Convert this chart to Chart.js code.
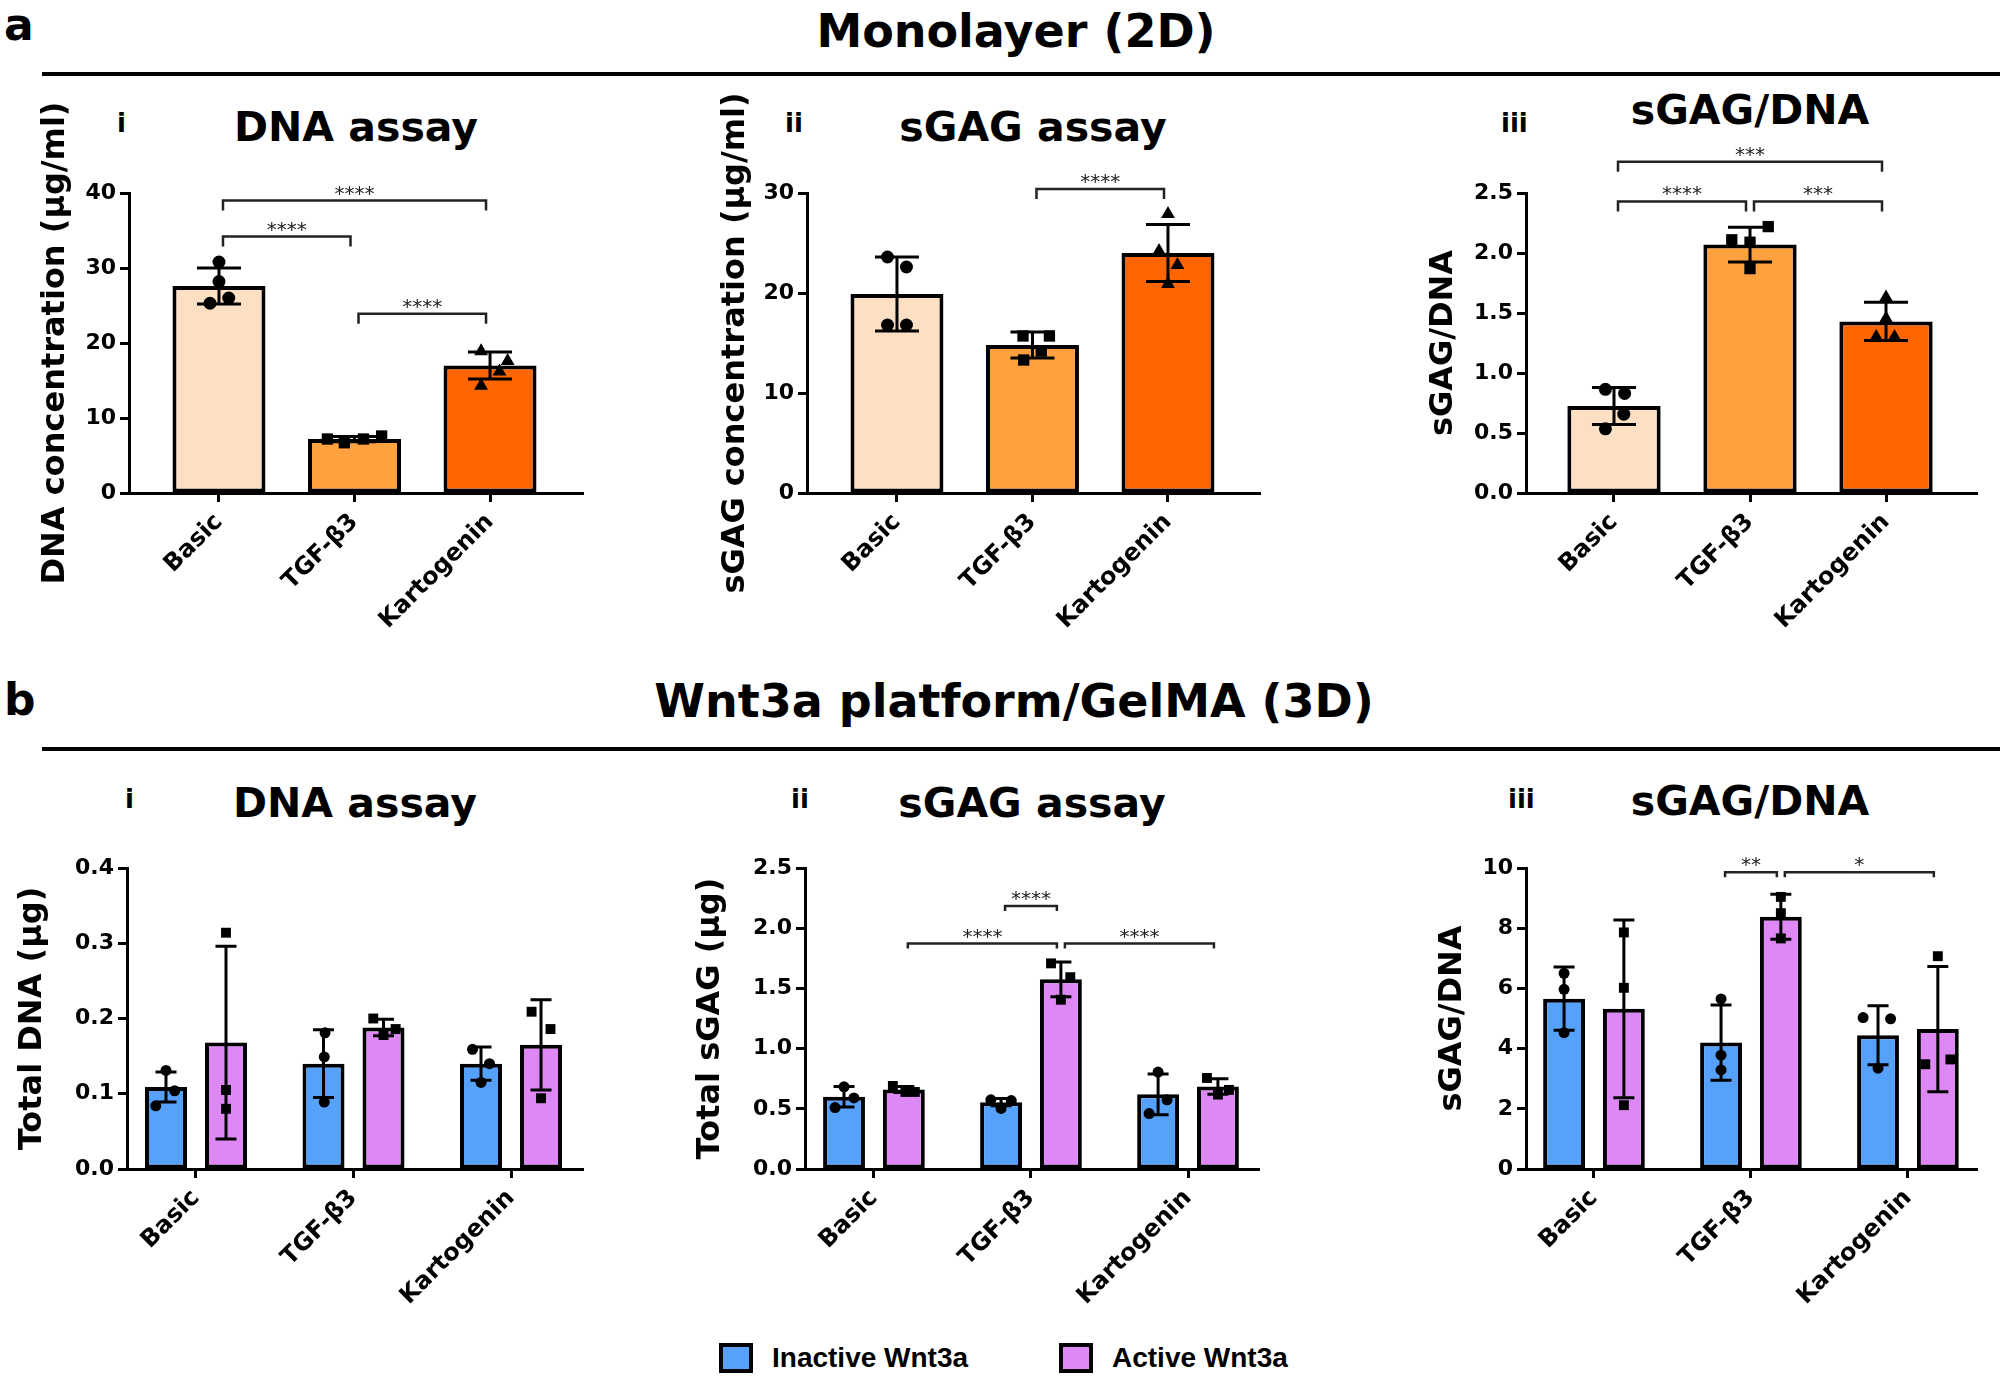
<!DOCTYPE html>
<html>
<head>
<meta charset="utf-8">
<script src="https://cdn.jsdelivr.net/npm/chart.js@4.4.1/dist/chart.umd.min.js"></script>
<style>
  body { margin: 0; background: #fff; width: 2006px; height: 1376px; overflow: hidden; position: relative; }
  .t { position: absolute; font-family: 'DejaVu Sans', sans-serif; font-weight: bold; line-height: 1; white-space: nowrap; color: #000; }
  .rule { position: absolute; left: 42px; width: 1958px; height: 4px; background: #000; }
  canvas { position: absolute; }
  .sw { position: absolute; width: 26px; height: 22px; border: 4px solid #000; }
  .lg { position: absolute; font-family: 'Liberation Sans', Arial, sans-serif; font-weight: bold; font-size: 28px; line-height: 1; white-space: nowrap; }
</style>
</head>
<body>
<div class="t" style="left:4px; top:3px; font-size:44px;">a</div>
<div class="t" style="left:1016px; top:8px; font-size:46px; transform:translateX(-50%);">Monolayer (2D)</div>
<div class="rule" style="top:72px;"></div>
<div class="t" style="left:4px; top:678px; font-size:44px;">b</div>
<div class="t" style="left:1014px; top:678px; font-size:46px; transform:translateX(-50%);">Wnt3a platform/GelMA (3D)</div>
<div class="rule" style="top:747px;"></div>

<div class="t" style="left:117px; top:110px; font-size:26px;">i</div>
<div class="t" style="left:785px; top:110px; font-size:26px;">ii</div>
<div class="t" style="left:1501px; top:110px; font-size:26px;">iii</div>
<div class="t" style="left:125px; top:786px; font-size:26px;">i</div>
<div class="t" style="left:791px; top:786px; font-size:26px;">ii</div>
<div class="t" style="left:1508px; top:786px; font-size:26px;">iii</div>

<div class="t" style="left:356px; top:107px; font-size:41px; transform:translateX(-50%);">DNA assay</div>
<div class="t" style="left:1033px; top:107px; font-size:41px; transform:translateX(-50%);">sGAG assay</div>
<div class="t" style="left:1750px; top:90px; font-size:41px; transform:translateX(-50%);">sGAG/DNA</div>
<div class="t" style="left:355px; top:783px; font-size:41px; transform:translateX(-50%);">DNA assay</div>
<div class="t" style="left:1032px; top:783px; font-size:41px; transform:translateX(-50%);">sGAG assay</div>
<div class="t" style="left:1750px; top:781px; font-size:41px; transform:translateX(-50%);">sGAG/DNA</div>

<div class="sw" style="left:719px; top:1343px; background:#55a1fb;"></div>
<div class="lg" style="left:772px; top:1344px;">Inactive Wnt3a</div>
<div class="sw" style="left:1059px; top:1343px; background:#dd88f4;"></div>
<div class="lg" style="left:1112px; top:1344px;">Active Wnt3a</div>

<script>
const FONT = "'DejaVu Sans', sans-serif";
const groups = ['Basic', 'TGF-\u03b23', 'Kartogenin'];

// a: Monolayer (2D)
const monoColors = ['#fde0c4', '#ffa13f', '#ff6500'];
const monoStyles = ['circle', 'rect', 'triangle'];

const monoDnaMean = [27.6, 7.2, 17.0];
const monoDnaSd = [2.4, 0.35, 1.8];
const monoDnaPts = [[30.8, 28.2, 25.3, 26.0], [7.2, 6.7, 7.2, 7.6], [18.9, 14.3, 16.2, 17.6]];
const monoDnaJit = [[0, 0, -0.066, 0.072], [-0.2, -0.075, 0.066, 0.2], [-0.066, -0.066, 0.07, 0.13]];
const monoDnaSig = [[0, 1, 34.2, '****'], [0, 2, 39.0, '****'], [1, 2, 23.9, '****']];

const monoGagMean = [19.9, 14.8, 24.0];
const monoGagSd = [3.7, 1.3, 2.85];
const monoGagPts = [[23.6, 22.6, 16.8, 16.8], [15.7, 15.7, 13.3, 14.2], [27.9, 24.2, 22.8, 20.9]];
const monoGagJit = [[-0.07, 0.07, -0.07, 0.07], [-0.07, 0.125, -0.065, 0.065], [0, -0.066, 0.07, 0]];
const monoGagSig = [[1, 2, 30.4, '****']];

const monoRatioMean = [0.725, 2.07, 1.43];
const monoRatioSd = [0.155, 0.145, 0.16];
const monoRatioPts = [[0.864, 0.83, 0.657, 0.535], [2.22, 2.11, 2.09, 1.87], [1.63, 1.455, 1.30, 1.30]];
const monoRatioJit = [[-0.063, 0.078, 0.072, -0.063], [0.134, -0.134, 0, 0], [0, 0, -0.072, 0.0625]];
const monoRatioSig = [[0, 1, 2.43, '****'], [1, 2, 2.43, '***'], [0, 2, 2.76, '***']];

// b: Wnt3a platform/GelMA (3D)
const seriesNames = ['Inactive Wnt3a', 'Active Wnt3a'];
const seriesColors = ['#55a1fb', '#dd88f4'];
const seriesStyles = ['circle', 'rect'];

const gelDnaInactiveMean = [0.109, 0.14, 0.14];
const gelDnaInactiveSd = [0.02, 0.045, 0.022];
const gelDnaInactivePts = [[0.131, 0.104, 0.084], [0.181, 0.149, 0.089], [0.159, 0.14, 0.115]];
const gelDnaInactiveJit = [[0, 0.055, -0.065], [0.01, 0.005, 0.005], [-0.054, 0.054, 0]];
const gelDnaActiveMean = [0.168, 0.188, 0.165];
const gelDnaActiveSd = [0.128, 0.011, 0.06];
const gelDnaActivePts = [[0.314, 0.105, 0.080], [0.20, 0.178, 0.186], [0.209, 0.186, 0.094]];
const gelDnaActiveJit = [[0, 0, 0], [-0.065, 0, 0.077], [-0.06, 0.06, 0]];
const gelDnaSig = [];

const gelGagInactiveMean = [0.60, 0.555, 0.62];
const gelGagInactiveSd = [0.085, 0.03, 0.17];
const gelGagInactivePts = [[0.683, 0.59, 0.51], [0.575, 0.568, 0.503], [0.805, 0.575, 0.46]];
const gelGagInactiveJit = [[0, 0.063, -0.057], [-0.065, 0.065, 0], [0, 0.057, -0.057]];
const gelGagActiveMean = [0.66, 1.575, 0.685];
const gelGagActiveSd = [0.025, 0.145, 0.065];
const gelGagActivePts = [[0.69, 0.64, 0.64], [1.708, 1.593, 1.406], [0.756, 0.657, 0.618]];
const gelGagActiveJit = [[-0.07, 0.01, 0.07], [-0.063, 0.06, 0], [-0.07, 0.07, 0]];
const gelGagSig = [[[0, 1], [1, 1], 2.185, '****'], [[1, 0], [1, 1], 1.872, '****'], [[1, 1], [1, 2], 1.872, '****']];

const gelRatioInactiveMean = [5.66, 4.2, 4.44];
const gelRatioInactiveSd = [1.05, 1.25, 0.98];
const gelRatioInactivePts = [[6.5, 5.97, 4.53], [5.65, 3.78, 3.29], [5.03, 4.99, 3.35]];
const gelRatioInactiveJit = [[0, 0, 0], [0, 0, 0], [-0.095, 0.08, 0]];
const gelRatioActiveMean = [5.32, 8.38, 4.65];
const gelRatioActiveSd = [2.95, 0.75, 2.08];
const gelRatioActivePts = [[7.86, 6.02, 2.12], [9.04, 8.5, 7.66], [7.07, 3.48, 3.64]];
const gelRatioActiveJit = [[0, 0, 0], [0, 0, 0], [0, -0.08, 0.08]];
const gelRatioSig = [[[0, 1], [1, 1], 9.86, '**'], [[1, 1], [1, 2], 9.86, '*']];

const PAD_TOP = 110;
const X_H = 150;
const GEL_CAT = 0.762;

// error bars + significance brackets
const annot = {
  id: 'annot',
  afterDatasetsDraw(chart, args, o) {
    const ctx = chart.ctx;
    const ys = chart.scales.y;
    ctx.save();
    ctx.strokeStyle = '#000';
    ctx.lineWidth = 3;
    chart.data.datasets.forEach((ds, d) => {
      if (!ds.sd) return;
      chart.getDatasetMeta(d).data.forEach((el, i) => {
        const m = ds.data[i].y, s = ds.sd[i];
        const yt = ys.getPixelForValue(m + s), yb = ys.getPixelForValue(m - s);
        ctx.beginPath();
        ctx.moveTo(el.x, yt); ctx.lineTo(el.x, yb);
        ctx.moveTo(el.x - o.cap / 2, yt); ctx.lineTo(el.x + o.cap / 2, yt);
        ctx.moveTo(el.x - o.cap / 2, yb); ctx.lineTo(el.x + o.cap / 2, yb);
        ctx.stroke();
      });
    });
    ctx.strokeStyle = '#222';
    ctx.lineWidth = 2.5;
    ctx.fillStyle = '#222';
    ctx.font = '20px ' + FONT;
    ctx.textAlign = 'center';
    ctx.textBaseline = 'alphabetic';
    o.sig.forEach(([a, b, level, txt]) => {
      const x1 = chart.getDatasetMeta(a[0]).data[a[1]].x + 4;
      const x2 = chart.getDatasetMeta(b[0]).data[b[1]].x - 4;
      const py = ys.getPixelForValue(level);
      ctx.beginPath();
      ctx.moveTo(x1, py + o.leg); ctx.lineTo(x1, py); ctx.lineTo(x2, py); ctx.lineTo(x2, py + o.leg);
      ctx.stroke();
      ctx.fillText(txt, (x1 + x2) / 2, py - 1);
    });
    ctx.restore();
  }
};

function makePanel(box, datasets, opts) {
  const yw = box.axisX - box.titleX + 16;
  const c = document.createElement('canvas');
  c.width = yw + (box.right - box.axisX) + 12;
  c.height = PAD_TOP + (box.bottom - box.top) + X_H;
  c.style.left = (box.axisX - yw) + 'px';
  c.style.top = (box.top - PAD_TOP) + 'px';
  document.body.appendChild(c);

  new Chart(c, {
    type: 'bar',
    data: { datasets },
    options: {
      responsive: false,
      animation: false,
      layout: { padding: { top: PAD_TOP, right: 12, left: 0, bottom: 0 } },
      plugins: {
        legend: { display: false },
        tooltip: { enabled: false },
        annot: { cap: opts.cap, leg: opts.leg, sig: opts.sig }
      },
      scales: {
        x: {
          type: 'linear',
          offset: false,
          min: opts.xMin,
          max: opts.xMax,
          afterBuildTicks: s => { s.ticks = groups.map((g, i) => ({ value: i })); },
          afterFit: s => { s.height = X_H; },
          grid: { offset: false, drawOnChartArea: false, drawTicks: true, tickLength: 9, tickWidth: 3, tickColor: '#000' },
          border: { color: '#000', width: 3 },
          ticks: {
            callback: v => groups[v],
            autoSkip: false,
            minRotation: 45,
            maxRotation: 45,
            padding: 6,
            color: '#000',
            font: { family: FONT, size: 24, weight: 'bold' }
          }
        },
        y: {
          min: 0,
          max: opts.yMax,
          afterFit: s => { s.width = yw; },
          grid: { drawOnChartArea: false, drawTicks: true, tickLength: 9, tickWidth: 3, tickColor: '#000' },
          border: { color: '#000', width: 3 },
          ticks: {
            stepSize: opts.step,
            padding: 4,
            color: '#000',
            font: { family: FONT, size: 22, weight: 'bold' },
            callback: v => v.toFixed(opts.dec)
          },
          title: {
            display: true,
            text: opts.yTitle,
            color: '#000',
            padding: 0,
            font: { family: FONT, size: 32, weight: 'bold', lineHeight: 1 }
          }
        }
      }
    },
    plugins: [annot]
  });
}

function monoSets(mean, sd, pts, jit) {
  const sets = [{
    label: 'mean',
    data: mean.map((v, i) => ({ x: i, y: v })),
    sd: sd,
    backgroundColor: monoColors,
    borderColor: '#000',
    borderWidth: 4,
    borderSkipped: false,
    categoryPercentage: 0.686,
    barPercentage: 1,
    order: 2
  }];
  pts.forEach((p, i) => {
    sets.push({
      type: 'scatter',
      data: p.map((v, k) => ({ x: i + jit[i][k], y: v })),
      pointStyle: monoStyles[i],
      pointRadius: i === 0 ? 6.5 : 8,
      backgroundColor: '#000',
      borderColor: '#000',
      borderWidth: 0,
      order: 1
    });
  });
  return sets;
}

function gelSets(means, sds, pts, jits) {
  const sets = means.map((mean, s) => ({
    label: seriesNames[s],
    data: mean.map((v, i) => ({ x: i, y: v })),
    sd: sds[s],
    backgroundColor: seriesColors[s],
    borderColor: '#000',
    borderWidth: 4,
    borderSkipped: false,
    categoryPercentage: GEL_CAT,
    barPercentage: 0.7,
    order: 2
  }));
  pts.forEach((p, s) => {
    const off = (s === 0 ? -1 : 1) * GEL_CAT / 4;
    sets.push({
      type: 'scatter',
      data: p.flatMap((g, i) => g.map((v, k) => ({ x: i + off + jits[s][i][k], y: v }))),
      pointStyle: seriesStyles[s],
      pointRadius: s === 0 ? 5.5 : 7,
      backgroundColor: '#000',
      borderColor: '#000',
      borderWidth: 0,
      order: 1
    });
  });
  return sets;
}

const monoSig = list => list.map(([a, b, l, t]) => [[0, a], [0, b], l, t]);

makePanel({ axisX: 129, titleX: 56, right: 583, top: 193, bottom: 493 },
  monoSets(monoDnaMean, monoDnaSd, monoDnaPts, monoDnaJit),
  { xMin: -0.664, xMax: 2.686, yMax: 40, step: 10, dec: 0, yTitle: 'DNA concentration (\u03bcg/ml)', cap: 44, leg: 10, sig: monoSig(monoDnaSig) });

makePanel({ axisX: 807, titleX: 736, right: 1260, top: 193, bottom: 493 },
  monoSets(monoGagMean, monoGagSd, monoGagPts, monoGagJit),
  { xMin: -0.664, xMax: 2.679, yMax: 30, step: 10, dec: 0, yTitle: 'sGAG concentration (\u03bcg/ml)', cap: 44, leg: 10, sig: monoSig(monoGagSig) });

makePanel({ axisX: 1526, titleX: 1444, right: 1977, top: 193, bottom: 493 },
  monoSets(monoRatioMean, monoRatioSd, monoRatioPts, monoRatioJit),
  { xMin: -0.647, xMax: 2.669, yMax: 2.5, step: 0.5, dec: 1, yTitle: 'sGAG/DNA', cap: 44, leg: 10, sig: monoSig(monoRatioSig) });

makePanel({ axisX: 127, titleX: 33, right: 583, top: 868, bottom: 1169 },
  gelSets([gelDnaInactiveMean, gelDnaActiveMean], [gelDnaInactiveSd, gelDnaActiveSd],
    [gelDnaInactivePts, gelDnaActivePts], [gelDnaInactiveJit, gelDnaActiveJit]),
  { xMin: -0.438, xMax: 2.457, yMax: 0.4, step: 0.1, dec: 1, yTitle: 'Total DNA (\u03bcg)', cap: 21, leg: 5, sig: gelDnaSig });

makePanel({ axisX: 805, titleX: 711, right: 1259, top: 868, bottom: 1169 },
  gelSets([gelGagInactiveMean, gelGagActiveMean], [gelGagInactiveSd, gelGagActiveSd],
    [gelGagInactivePts, gelGagActivePts], [gelGagInactiveJit, gelGagActiveJit]),
  { xMin: -0.439, xMax: 2.452, yMax: 2.5, step: 0.5, dec: 1, yTitle: 'Total sGAG (\u03bcg)', cap: 21, leg: 5, sig: gelGagSig });

makePanel({ axisX: 1526, titleX: 1453, right: 1977, top: 868, bottom: 1169 },
  gelSets([gelRatioInactiveMean, gelRatioActiveMean], [gelRatioInactiveSd, gelRatioActiveSd],
    [gelRatioInactivePts, gelRatioActivePts], [gelRatioInactiveJit, gelRatioActiveJit]),
  { xMin: -0.433, xMax: 2.44, yMax: 10, step: 2, dec: 0, yTitle: 'sGAG/DNA', cap: 21, leg: 5, sig: gelRatioSig });
</script>
</body>
</html>
